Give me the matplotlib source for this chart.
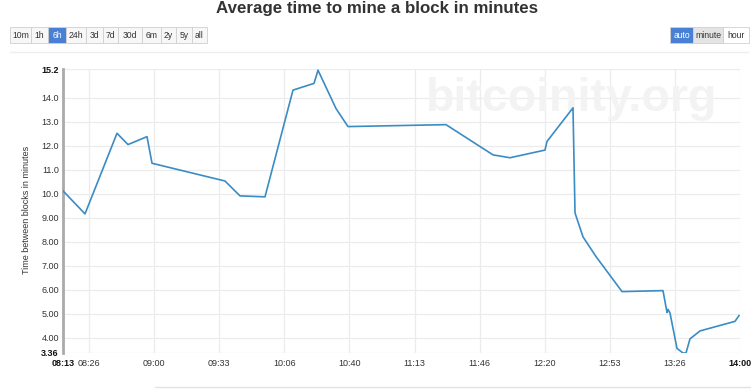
import matplotlib
matplotlib.use("Agg")
import matplotlib.pyplot as plt
from matplotlib.patches import Rectangle
from matplotlib.lines import Line2D

plt.rcParams['font.family'] = ['Liberation Sans', 'DejaVu Sans']

# ---- data ----
times = ["08:13:20", "08:24:36", "08:40:59", "08:46:37", "08:56:21", "08:58:55",
         "09:36:17", "09:43:58", "09:56:46", "10:11:06", "10:21:52", "10:23:55",
         "10:33:08", "10:39:16", "11:29:27", "11:53:31", "12:02:14", "12:20:09",
         "12:21:10", "12:34:29", "12:35:31", "12:39:37", "12:46:16", "12:59:35",
         "13:20:34", "13:22:37", "13:23:08", "13:24:09", "13:27:44", "13:30:49",
         "13:32:21", "13:34:24", "13:39:31", "13:57:26", "13:59:29"]
values = [10.12, 9.16, 12.52, 12.05, 12.38, 11.27,
          10.53, 9.91, 9.87, 14.32, 14.6, 15.15,
          13.55, 12.8, 12.88, 11.62, 11.5, 11.82,
          12.18, 13.58, 9.2, 8.2, 7.38, 5.92,
          5.96, 5.05, 5.18, 5.03, 3.55, 3.36,
          3.36, 3.95, 4.28, 4.68, 4.92]

xtick_times = ["08:13:20", "08:26:40", "09:00:00", "09:33:20", "10:06:40", "10:40:00",
               "11:13:20", "11:46:40", "12:20:00", "12:53:20", "13:26:40", "14:00:00"]
ytick_values = [3.36, 4, 5, 6, 7, 8, 9, 10, 11, 12, 13, 14, 15.2]
ytick_labels = ["3.36", "4.00", "5.00", "6.00", "7.00", "8.00", "9.00",
                "10.0", "11.0", "12.0", "13.0", "14.0", "15.2"]
range_buttons = ["10m", "1h", "6h", "24h", "3d", "7d", "30d", "6m", "2y", "5y", "all"]
unit_buttons = ["auto", "minute", "hour"]

title = "Average time to mine a block in minutes"
ylabel = "Time between blocks in minutes"
watermark = "bitcoinity.org"


def to_min(s):
    parts = [int(p) for p in s.split(":")]
    while len(parts) < 3:
        parts.append(0)
    return parts[0] * 60 + parts[1] + parts[2] / 60.0


xs = [to_min(t) for t in times]
xt = [to_min(t) for t in xtick_times]

W, H = 751, 389
fig = plt.figure(figsize=(W / 100, H / 100), dpi=100)

L, R, T, B = 63, 740, 69, 353
ax = fig.add_axes([L / W, 1 - B / H, (R - L) / W, (B - T) / H])
ax.set_xlim(xt[0], xt[-1])
ax.set_ylim(min(ytick_values), max(ytick_values))

ax.plot(xs, values, color='#3a8cc4', lw=1.2, zorder=3)

ax.set_yticks(ytick_values)
ax.set_yticklabels(ytick_labels)
ax.set_xticks(xt)
ax.set_xticklabels([t[:5] for t in xtick_times])
ax.tick_params(axis='both', length=0, labelsize=6.5, colors='#333333')
ax.tick_params(axis='y', pad=3)
ax.tick_params(axis='x', pad=4)
for lab in (ax.get_yticklabels()[0], ax.get_yticklabels()[-1],
            ax.get_xticklabels()[0], ax.get_xticklabels()[-1]):
    lab.set_fontweight('bold')
    lab.set_color('#111111')

ax.grid(True, color='#ececec', lw=0.9, zorder=0)
ax.set_axisbelow(True)
for s in ('top', 'right', 'bottom'):
    ax.spines[s].set_visible(False)
ax.spines['left'].set_color('#aaaaaa')
ax.spines['left'].set_linewidth(2)

ax.text(0.752, 0.895, watermark, transform=ax.transAxes, ha='center', va='center',
        fontsize=33.5, fontweight='bold', color='#f3f3f3', zorder=1)

fig.text(27 / W, 1 - 210 / H, ylabel, rotation=90, ha='center', va='center',
         fontsize=6.5, color='#333333')

fig.text(377 / W, 1 - 8 / H, title, ha='center', va='center', fontsize=12.2,
         fontweight='bold', color='#333333')


def draw_buttons(labels, edges, active, y0, y1, bgs):
    for i, lab in enumerate(labels):
        x0, x1 = edges[i], edges[i + 1]
        if i == active:
            fc, tc = '#4a7fd6', 'white'
        else:
            fc, tc = bgs[i], '#333333'
        fig.patches.append(Rectangle((x0 / W, 1 - y1 / H), (x1 - x0) / W, (y1 - y0) / H,
                                     transform=fig.transFigure, facecolor=fc,
                                     edgecolor='#d0d0d0', lw=0.6))
        fig.text((x0 + x1) / 2 / W, 1 - (y0 + y1) / 2 / H, lab, ha='center', va='center',
                 fontsize=6.2, color=tc)


draw_buttons(range_buttons, [10, 31, 48, 66, 86, 103, 118, 142, 161, 176, 192, 207], 2, 27, 43,
             ['#f7f7f7'] * 11)
draw_buttons(unit_buttons, [670, 693, 723, 749], 0, 27, 43, ['#f7f7f7', '#e4e4e4', '#ffffff'])

fig.lines.append(Line2D([10 / W, 748 / W], [1 - 52 / H, 1 - 52 / H], transform=fig.transFigure,
                        color='#eeeeee', lw=1))
fig.lines.append(Line2D([155 / W, 1.0], [1 - 387 / H, 1 - 387 / H], transform=fig.transFigure,
                        color='#e2e2e2', lw=1))

fig.savefig("out.png", dpi=100)
